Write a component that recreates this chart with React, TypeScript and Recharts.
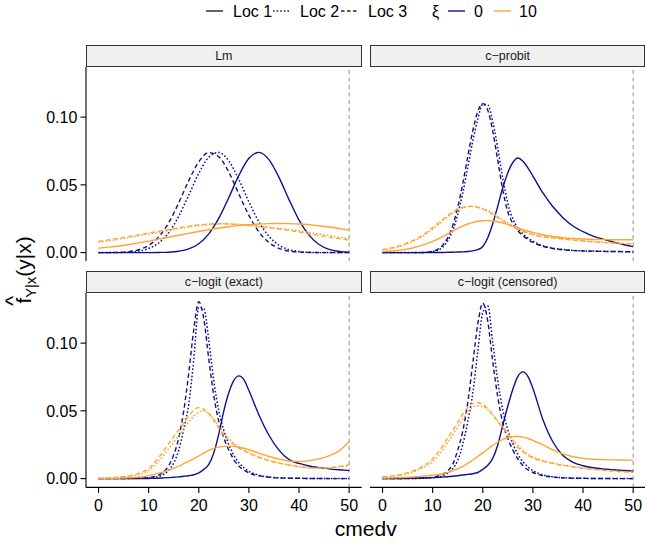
import React from 'react';
import { LineChart, Line, XAxis, YAxis, ReferenceLine } from 'recharts';

// ---------- x grids ----------
const xLm = [0, 2, 4, 6, 8, 10, 12, 14, 16, 18, 20, 22, 24, 26, 28, 30, 32, 34, 36, 38, 40, 42, 44, 46, 48, 50];
const xFine = [0, 2, 4, 6, 8, 10, 12, 13, 14, 15, 16, 17, 18, 19, 20, 21, 22, 23, 24, 25, 26, 27, 28, 29, 30, 32, 34, 36, 38, 40, 42, 44, 46, 48, 50];

// ---------- Lm ----------
const lmB1 = [0, 0, 0, 0, 0, 0, 0.0001, 0.0003, 0.0010, 0.0027, 0.0065, 0.0138, 0.0254, 0.0407, 0.0570, 0.0696, 0.0740, 0.0686, 0.0555, 0.0391, 0.0240, 0.0129, 0.0060, 0.0024, 0.0009, 0.0003];
const lmB2 = [0, 0, 0.0001, 0.0003, 0.0011, 0.0030, 0.0071, 0.0147, 0.0268, 0.0424, 0.0585, 0.0704, 0.0739, 0.0676, 0.0539, 0.0375, 0.0227, 0.0120, 0.0055, 0.0022, 0.0008, 0.0002, 0.0001, 0, 0, 0];
const lmB3 = [0, 0, 0.0002, 0.0007, 0.0021, 0.0053, 0.0116, 0.0221, 0.0367, 0.0531, 0.0670, 0.0738, 0.0708, 0.0593, 0.0432, 0.0275, 0.0152, 0.0074, 0.0031, 0.0011, 0.0004, 0.0001, 0, 0, 0, 0];
const lmO1 = [0.0032, 0.0040, 0.0049, 0.0060, 0.0072, 0.0085, 0.0099, 0.0113, 0.0128, 0.0142, 0.0156, 0.0169, 0.0181, 0.0191, 0.0199, 0.0206, 0.0211, 0.0214, 0.0215, 0.0214, 0.0211, 0.0206, 0.0198, 0.0189, 0.0178, 0.0166];
const lmO2 = [0.0076, 0.0087, 0.0098, 0.0110, 0.0123, 0.0136, 0.0149, 0.0162, 0.0175, 0.0188, 0.0199, 0.0207, 0.0212, 0.0212, 0.0208, 0.0202, 0.0194, 0.0187, 0.0179, 0.0170, 0.0160, 0.0149, 0.0138, 0.0126, 0.0114, 0.0103];
const lmO3 = [0.0083, 0.0094, 0.0106, 0.0118, 0.0131, 0.0144, 0.0157, 0.0170, 0.0183, 0.0195, 0.0204, 0.0211, 0.0213, 0.0211, 0.0206, 0.0199, 0.0190, 0.0183, 0.0174, 0.0164, 0.0152, 0.0139, 0.0126, 0.0114, 0.0103, 0.0092];

// ---------- c-probit ----------
const probitB1 = [0, 0, 0, 0, 0, 0.0001, 0.0001, 0.0002, 0.0003, 0.0004, 0.0005, 0.0008, 0.0013, 0.0022, 0.0045, 0.0110, 0.0215, 0.0345, 0.0480, 0.0590, 0.0665, 0.0698, 0.0674, 0.0625, 0.0565, 0.0440, 0.0338, 0.0258, 0.0196, 0.0154, 0.0122, 0.0099, 0.0079, 0.0060, 0.0044];
const probitB2 = [0, 0, 0, 0, 0.0001, 0.0007, 0.0040, 0.0087, 0.0163, 0.0280, 0.0438, 0.0628, 0.0822, 0.0984, 0.1095, 0.1090, 0.0966, 0.0768, 0.0545, 0.0364, 0.0249, 0.0182, 0.0139, 0.0108, 0.0084, 0.0051, 0.0033, 0.0023, 0.0016, 0.0013, 0.0011, 0.0009, 0.0008, 0.0007, 0.0006];
const probitB3 = [0, 0, 0, 0, 0.0001, 0.0010, 0.0054, 0.0109, 0.0199, 0.0333, 0.0508, 0.0708, 0.0898, 0.1041, 0.1100, 0.1050, 0.0894, 0.0678, 0.0459, 0.0300, 0.0215, 0.0160, 0.0125, 0.0097, 0.0075, 0.0046, 0.0030, 0.0021, 0.0016, 0.0012, 0.0010, 0.0009, 0.0008, 0.0007, 0.0006];
const probitO1 = [0.0007, 0.0012, 0.0020, 0.0034, 0.0055, 0.0082, 0.0118, 0.0138, 0.0158, 0.0178, 0.0196, 0.0211, 0.0223, 0.0231, 0.0235, 0.0236, 0.0233, 0.0226, 0.0217, 0.0206, 0.0194, 0.0182, 0.0170, 0.0159, 0.0149, 0.0132, 0.0119, 0.0110, 0.0104, 0.0100, 0.0097, 0.0096, 0.0095, 0.0095, 0.0095];
const probitO2 = [0.0019, 0.0032, 0.0052, 0.0080, 0.0120, 0.0172, 0.0232, 0.0263, 0.0290, 0.0312, 0.0328, 0.0338, 0.0341, 0.0337, 0.0326, 0.0310, 0.0289, 0.0266, 0.0242, 0.0219, 0.0198, 0.0179, 0.0163, 0.0149, 0.0138, 0.0121, 0.0110, 0.0102, 0.0094, 0.0087, 0.0081, 0.0076, 0.0072, 0.0068, 0.0065];
const probitO3 = [0.0022, 0.0036, 0.0058, 0.0088, 0.0130, 0.0185, 0.0245, 0.0275, 0.0300, 0.0320, 0.0334, 0.0341, 0.0341, 0.0334, 0.0321, 0.0303, 0.0281, 0.0257, 0.0233, 0.0210, 0.0190, 0.0172, 0.0157, 0.0144, 0.0133, 0.0116, 0.0107, 0.0100, 0.0092, 0.0085, 0.0079, 0.0074, 0.0070, 0.0066, 0.0063];

// ---------- c-logit (exact) ----------
const exactB1 = [0, 0, 0, 0, 0, 0.0001, 0.0003, 0.0005, 0.0007, 0.0010, 0.0013, 0.0017, 0.0021, 0.0028, 0.0042, 0.0068, 0.0105, 0.0190, 0.0330, 0.0500, 0.0635, 0.0725, 0.0758, 0.0730, 0.0650, 0.0470, 0.0320, 0.0210, 0.0140, 0.0112, 0.0093, 0.0081, 0.0072, 0.0065, 0.0059];
const exactB2 = [0, 0, 0, 0.0001, 0.0002, 0.0005, 0.0015, 0.0032, 0.0062, 0.0115, 0.0210, 0.0365, 0.0550, 0.0880, 0.1265, 0.1255, 0.1020, 0.0720, 0.0500, 0.0355, 0.0250, 0.0172, 0.0117, 0.0080, 0.0054, 0.0026, 0.0012, 0.0006, 0.0003, 0.0002, 0.0001, 0.0001, 0, 0, 0];
const exactB3 = [0, 0, 0, 0.0001, 0.0003, 0.0008, 0.0025, 0.0050, 0.0095, 0.0175, 0.0300, 0.0500, 0.0780, 0.1100, 0.1305, 0.1180, 0.0880, 0.0610, 0.0420, 0.0300, 0.0210, 0.0140, 0.0092, 0.0062, 0.0042, 0.0020, 0.0010, 0.0005, 0.0003, 0.0002, 0.0001, 0.0001, 0, 0, 0];
const exactO1 = [0.0000, 0.0001, 0.0003, 0.0006, 0.0012, 0.0022, 0.0040, 0.0050, 0.0062, 0.0076, 0.0092, 0.0110, 0.0128, 0.0146, 0.0167, 0.0188, 0.0208, 0.0222, 0.0232, 0.0238, 0.0240, 0.0238, 0.0232, 0.0224, 0.0213, 0.0188, 0.0163, 0.0143, 0.0130, 0.0126, 0.0131, 0.0145, 0.0168, 0.0205, 0.0272];
const exactO2 = [0.0001, 0.0003, 0.0008, 0.0016, 0.0030, 0.0060, 0.0128, 0.0172, 0.0220, 0.0270, 0.0320, 0.0370, 0.0418, 0.0460, 0.0490, 0.0500, 0.0482, 0.0440, 0.0388, 0.0338, 0.0295, 0.0260, 0.0233, 0.0211, 0.0192, 0.0160, 0.0134, 0.0115, 0.0100, 0.0088, 0.0080, 0.0077, 0.0079, 0.0085, 0.0094];
const exactO3 = [0.0002, 0.0004, 0.0010, 0.0020, 0.0038, 0.0075, 0.0155, 0.0205, 0.0258, 0.0310, 0.0360, 0.0410, 0.0460, 0.0505, 0.0524, 0.0512, 0.0478, 0.0428, 0.0372, 0.0322, 0.0282, 0.0250, 0.0225, 0.0205, 0.0186, 0.0156, 0.0132, 0.0114, 0.0100, 0.0088, 0.0080, 0.0078, 0.0081, 0.0089, 0.0102];

// ---------- c-logit (censored) ----------
const censB1 = [0, 0, 0.0001, 0.0002, 0.0004, 0.0007, 0.0011, 0.0014, 0.0017, 0.0021, 0.0026, 0.0031, 0.0036, 0.0045, 0.0068, 0.0098, 0.0150, 0.0250, 0.0395, 0.0536, 0.0660, 0.0755, 0.0788, 0.0755, 0.0665, 0.0435, 0.0270, 0.0170, 0.0120, 0.0095, 0.0080, 0.0071, 0.0065, 0.0060, 0.0055];
const censB2 = [0, 0, 0, 0.0001, 0.0002, 0.0006, 0.0020, 0.0040, 0.0072, 0.0135, 0.0250, 0.0420, 0.0630, 0.0940, 0.1225, 0.1275, 0.1000, 0.0720, 0.0505, 0.0360, 0.0258, 0.0180, 0.0125, 0.0086, 0.0058, 0.0028, 0.0013, 0.0006, 0.0003, 0.0002, 0.0001, 0.0001, 0, 0, 0];
const censB3 = [0, 0, 0, 0.0001, 0.0004, 0.0010, 0.0032, 0.0058, 0.0105, 0.0210, 0.0350, 0.0560, 0.0850, 0.1140, 0.1296, 0.1160, 0.0860, 0.0600, 0.0410, 0.0295, 0.0210, 0.0145, 0.0097, 0.0065, 0.0045, 0.0022, 0.0011, 0.0006, 0.0003, 0.0002, 0.0001, 0.0001, 0, 0, 0];
const censO1 = [0.0003, 0.0005, 0.0008, 0.0012, 0.0018, 0.0025, 0.0036, 0.0045, 0.0057, 0.0072, 0.0090, 0.0112, 0.0137, 0.0163, 0.0190, 0.0218, 0.0245, 0.0270, 0.0290, 0.0303, 0.0310, 0.0311, 0.0306, 0.0296, 0.0282, 0.0248, 0.0212, 0.0182, 0.0161, 0.0149, 0.0143, 0.0140, 0.0138, 0.0137, 0.0136];
const censO2 = [0.0010, 0.0017, 0.0028, 0.0047, 0.0078, 0.0125, 0.0210, 0.0265, 0.0322, 0.0382, 0.0440, 0.0492, 0.0527, 0.0538, 0.0530, 0.0508, 0.0470, 0.0425, 0.0380, 0.0333, 0.0287, 0.0245, 0.0210, 0.0182, 0.0161, 0.0133, 0.0115, 0.0101, 0.0089, 0.0079, 0.0070, 0.0063, 0.0057, 0.0052, 0.0048];
const censO3 = [0.0012, 0.0020, 0.0033, 0.0055, 0.0090, 0.0145, 0.0240, 0.0300, 0.0355, 0.0415, 0.0475, 0.0525, 0.0555, 0.0560, 0.0545, 0.0515, 0.0470, 0.0420, 0.0375, 0.0325, 0.0275, 0.0232, 0.0198, 0.0172, 0.0152, 0.0127, 0.0110, 0.0097, 0.0086, 0.0076, 0.0068, 0.0061, 0.0055, 0.0050, 0.0046];

// ---------- ticks / labels ----------
const xTicks = [0, 10, 20, 30, 40, 50];
const yTicks = [0, 0.05, 0.1];
const panelTitles = ['Lm', 'c\u2212probit', 'c\u2212logit (exact)', 'c\u2212logit (censored)'];
const locLabels = ['Loc 1', 'Loc 2', 'Loc 3'];
const xiLabels = ['0', '10'];

// ---------- styling ----------
const BLUE = '#10108c';
const ORANGE = '#ffa534';
const DOTTED = '1.6 2';
const DASHED = '4.5 3';
const FONT = "'Liberation Sans', Arial, Helvetica, sans-serif";

const seriesStyle = [
  { key: 'b1', color: BLUE, dash: undefined as string | undefined },
  { key: 'b2', color: BLUE, dash: DOTTED },
  { key: 'b3', color: BLUE, dash: DASHED },
  { key: 'o1', color: ORANGE, dash: undefined as string | undefined },
  { key: 'o2', color: ORANGE, dash: DOTTED },
  { key: 'o3', color: ORANGE, dash: DASHED },
];

function buildRows(xs: number[], b1: number[], b2: number[], b3: number[], o1: number[], o2: number[], o3: number[]) {
  return xs.map((x, i) => ({ x, b1: b1[i], b2: b2[i], b3: b3[i], o1: o1[i], o2: o2[i], o3: o3[i] }));
}

const rowsLm = buildRows(xLm, lmB1, lmB2, lmB3, lmO1, lmO2, lmO3);
const rowsProbit = buildRows(xFine, probitB1, probitB2, probitB3, probitO1, probitO2, probitO3);
const rowsExact = buildRows(xFine, exactB1, exactB2, exactB3, exactO1, exactO2, exactO3);
const rowsCens = buildRows(xFine, censB1, censB2, censB3, censO1, censO2, censO3);

const PLOT_W = 275.7;
const PLOT_H = 194.4;
const STRIP_H = 22.5;
const Y_AXIS_W = 86;
const X_AXIS_H = 50;

type PanelProps = { title: string; rows: any[]; left: number; top: number; showX: boolean; showY: boolean };

function Panel({ title, rows, left, top, showX, showY }: PanelProps) {
  const w = (showY ? Y_AXIS_W : 0) + PLOT_W;
  const h = PLOT_H + (showX ? X_AXIS_H : 0);
  const plotLeft = left + (showY ? Y_AXIS_W : 0);
  return (
    <>
      <div
        style={{
          position: 'absolute',
          left: plotLeft,
          top: top - STRIP_H,
          width: PLOT_W,
          height: STRIP_H,
          boxSizing: 'border-box',
          border: '1.2px solid #333333',
          background: '#F0F0F0',
          display: 'flex',
          alignItems: 'center',
          justifyContent: 'center',
          fontSize: 12.5,
          color: '#1a1a1a',
        }}
      >
        {title}
      </div>
      <div style={{ position: 'absolute', left, top, width: w, height: h }}>
        <LineChart width={w} height={h} data={rows} margin={{ top: 0, right: 0, bottom: 0, left: 0 }}>
          <XAxis
            type="number"
            dataKey="x"
            domain={[-2.5, 52.5]}
            ticks={xTicks}
            interval={0}
            allowDataOverflow
            hide={!showX}
            height={X_AXIS_H}
            tickSize={5.5}
            tickMargin={6.7}
            tick={{ fontSize: 16, fill: '#000000' }}
            axisLine={{ stroke: '#000000', strokeWidth: 1.1 }}
            tickLine={{ stroke: '#000000', strokeWidth: 1.1 }}
          />
          <YAxis
            type="number"
            domain={[-0.0065, 0.137]}
            ticks={yTicks}
            interval={0}
            allowDataOverflow
            hide={!showY}
            width={Y_AXIS_W}
            tickSize={5.5}
            tickMargin={3.2}
            tickFormatter={(v: number) => v.toFixed(2)}
            tick={{ fontSize: 16, fill: '#000000' }}
            axisLine={{ stroke: '#000000', strokeWidth: 1.1 }}
            tickLine={{ stroke: '#000000', strokeWidth: 1.1 }}
          />
          <ReferenceLine x={50} stroke="#999999" strokeDasharray="4 3.5" strokeWidth={1.1} />
          {seriesStyle.map((s) => (
            <Line
              key={s.key}
              type="monotone"
              dataKey={s.key}
              stroke={s.color}
              strokeWidth={s.dash === DOTTED ? 1.5 : 1.4}
              strokeDasharray={s.dash}
              dot={false}
              activeDot={false}
              isAnimationActive={false}
            />
          ))}
        </LineChart>
      </div>
    </>
  );
}

function Legend() {
  const keyY = 11;
  const base = 16.7;
  return (
    <svg width={646} height={26} style={{ position: 'absolute', left: 0, top: 0 }}>
      <line x1={206} x2={223} y1={keyY} y2={keyY} stroke="#222" strokeWidth={1.4} />
      <text x={233} y={base} fontSize={16} fill="#000">{locLabels[0]}</text>
      <line x1={273} x2={290} y1={keyY} y2={keyY} stroke="#222" strokeWidth={1.5} strokeDasharray={DOTTED} />
      <text x={300} y={base} fontSize={16} fill="#000">{locLabels[1]}</text>
      <line x1={341} x2={358} y1={keyY} y2={keyY} stroke="#222" strokeWidth={1.4} strokeDasharray="3.5 2.5" />
      <text x={368} y={base} fontSize={16} fill="#000">{locLabels[2]}</text>
      <text x={432} y={base} fontSize={16} fill="#000">{'\u03BE'}</text>
      <line x1={448} x2={465} y1={keyY} y2={keyY} stroke={BLUE} strokeWidth={1.4} />
      <text x={474} y={base} fontSize={16} fill="#000">{xiLabels[0]}</text>
      <line x1={494} x2={511} y1={keyY} y2={keyY} stroke={ORANGE} strokeWidth={1.4} />
      <text x={519} y={base} fontSize={16} fill="#000">{xiLabels[1]}</text>
    </svg>
  );
}

function AxisTitles() {
  return (
    <svg width={646} height={544} style={{ position: 'absolute', left: 0, top: 0, pointerEvents: 'none' }}>
      <text x={365.8} y={535.5} fontSize={21} textAnchor="middle" fill="#000">cmedv</text>
      <g transform="translate(31,270) rotate(-90)">
        <text x={-33.6} y={0} fontSize={21} fill="#000">
          <tspan>f</tspan>
          <tspan fontSize={14.7} dy={5}>{'Y|x'}</tspan>
          <tspan dy={-5}>(y|x)</tspan>
        </text>
        <text x={-30.7} y={-11.5} fontSize={21} textAnchor="middle" fill="#000">^</text>
      </g>
    </svg>
  );
}

export default function App() {
  const topY = 67.1;
  const botY = 293.4;
  const rightX = 369.8;
  return (
    <div
      style={{
        position: 'absolute',
        left: 0,
        top: 0,
        width: 646,
        height: 544,
        background: '#ffffff',
        fontFamily: FONT,
        overflow: 'hidden',
      }}
    >
      <Legend />
      <Panel title={panelTitles[0]} rows={rowsLm} left={0} top={topY} showX={false} showY={true} />
      <Panel title={panelTitles[1]} rows={rowsProbit} left={rightX} top={topY} showX={false} showY={false} />
      <Panel title={panelTitles[2]} rows={rowsExact} left={0} top={botY} showX={true} showY={true} />
      <Panel title={panelTitles[3]} rows={rowsCens} left={rightX} top={botY} showX={true} showY={false} />
      <AxisTitles />
    </div>
  );
}
